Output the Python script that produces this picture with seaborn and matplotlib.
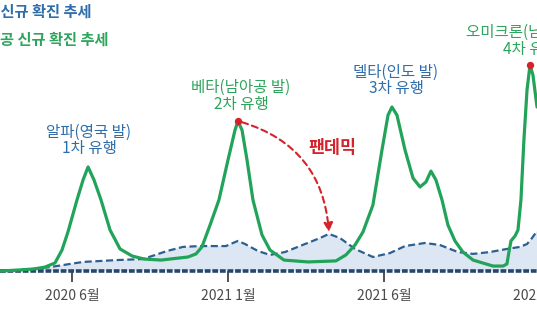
import matplotlib
matplotlib.use("Agg")
import matplotlib.pyplot as plt
import seaborn as sns
import pandas as pd

# ---- data (x: position along time axis, tick units; y: relative case level) ----
tick_pos = [0, 1, 2, 3]
tick_labels = ["2020 6월", "2021 1월", "2021 6월", "2022 1월"]

sa_x = [-0.462, -0.333, -0.244, -0.173, -0.109, -0.064, -0.026, 0.032, 0.071, 0.103,
        0.141, 0.186, 0.244, 0.308, 0.385, 0.462, 0.571, 0.744, 0.795, 0.833,
        0.885, 0.942, 1.0, 1.045, 1.064, 1.090, 1.122, 1.160, 1.218, 1.269,
        1.359, 1.513, 1.692, 1.756, 1.814, 1.865, 1.929, 1.987, 2.026, 2.051,
        2.083, 2.135, 2.186, 2.231, 2.269, 2.301, 2.333, 2.372, 2.410, 2.455,
        2.506, 2.571, 2.699, 2.763, 2.788, 2.801, 2.814, 2.840, 2.859, 2.878,
        2.897, 2.917, 2.936, 2.955, 2.981]
sa_y = [0, 0.5, 1.0, 1.9, 3.9, 10.2, 18.9, 34.5, 44.2, 50.5,
        44.2, 34.5, 19.9, 10.7, 7.3, 5.8, 5.3, 6.8, 8.3, 11.7,
        22.3, 34.5, 53.9, 68.4, 72.8, 68.4, 53.9, 34.5, 17.5, 10.2,
        5.3, 4.4, 4.9, 7.8, 12.6, 18.9, 32.0, 58.7, 75.7, 79.6,
        75.7, 58.7, 45.1, 40.8, 43.2, 48.5, 44.2, 34.5, 22.3, 14.6,
        9.2, 5.3, 2.4, 2.4, 3.4, 9.2, 14.6, 17.0, 19.9, 34.5,
        63.6, 87.9, 100.0, 95.1, 79.6]

world_x = [-0.462, -0.244, -0.141, 0.071, 0.288, 0.455, 0.609, 0.712, 0.821, 0.987,
           1.032, 1.064, 1.109, 1.192, 1.269, 1.365, 1.494, 1.590, 1.647, 1.718,
           1.814, 1.929, 2.038, 2.135, 2.263, 2.359, 2.474, 2.571, 2.679, 2.788,
           2.872, 2.917, 2.949, 2.981]
world_y = [0, 1.0, 1.9, 4.4, 5.3, 5.8, 9.7, 11.7, 12.1, 12.1,
           13.6, 14.6, 13.1, 9.7, 7.8, 9.2, 13.1, 16.0, 18.0, 16.0,
           10.7, 6.8, 8.7, 12.1, 13.6, 12.6, 9.2, 8.3, 9.2, 10.7,
           11.7, 13.1, 16.0, 19.4]

peak_x = [1.064, 2.936]
peak_y = [72.8, 100.0]

GREEN = "#22a35a"
BLUE = "#2e5f8f"
BLUE_TXT = "#2f6eaa"
GREEN_TXT = "#2ea45c"
RED = "#d4232b"

sns.set_theme(style="white")
plt.rcParams["font.family"] = ["Noto Sans CJK KR", "DejaVu Sans"]

fig = plt.figure(figsize=(5.37, 3.35), dpi=100)
fig.patch.set_facecolor("white")
ax = fig.add_axes([0, 0, 1.1508, 1])
ax.set_xlim(-0.4615, 3.5)
ax.set_ylim(-31.07, 131.55)

df_sa = pd.DataFrame({"x": sa_x, "y": sa_y})
df_w = pd.DataFrame({"x": world_x, "y": world_y})

ax.fill_between(world_x, world_y, 0, color="#dde7f3", zorder=1, lw=0)
sns.lineplot(data=df_w, x="x", y="y", sort=False, ax=ax, color=BLUE, lw=1.6,
             linestyle=(0, (3.2, 1.6)), zorder=2)
ax.axhline(0, color="#27466b", lw=2.6, linestyle=(0, (1.6, 0.5)), zorder=3)
sns.lineplot(data=df_sa, x="x", y="y", sort=False, ax=ax, color=GREEN, lw=2.3, zorder=4)

ax.scatter(peak_x, peak_y, s=28, color=RED, zorder=6, lw=0)

ax.annotate("", xy=(1.647, 18.9), xytext=(peak_x[0], peak_y[0]),
            arrowprops=dict(arrowstyle="-|>", color=RED, lw=1.5, linestyle=(0, (3, 2)),
                            connectionstyle="arc3,rad=-0.35", shrinkA=3, shrinkB=0,
                            mutation_scale=13),
            zorder=5)

ax.set_xticks(tick_pos)
ax.set_xticklabels(tick_labels)
ax.set_yticks([])
for s in ax.spines.values():
    s.set_visible(False)
ax.spines["bottom"].set_position(("data", 0))
ax.tick_params(axis="x", direction="out", length=8, width=1.2, color="#333333",
               labelsize=10, labelcolor="#4a4a4a", pad=5, bottom=True)
for t in ax.get_xticklabels():
    t.set_fontweight("light")
ax.set_xlabel("")
ax.set_ylabel("")

def lbl(x, y, s, c, size=11.2, weight="medium", ha="center"):
    ax.text(x, y, s, color=c, fontsize=size, fontweight=weight, ha=ha, va="center", zorder=7)

lbl(0.109, 67.5, "알파(영국 발)", BLUE_TXT)
lbl(0.109, 59.7, "1차 유행", BLUE_TXT)
lbl(1.083, 89.3, "베타(남아공 발)", GREEN_TXT)
lbl(1.083, 80.6, "2차 유행", GREEN_TXT)
lbl(2.077, 96.6, "델타(인도 발)", BLUE_TXT)
lbl(2.077, 88.8, "3차 유행", BLUE_TXT)
lbl(2.936, 116.0, "오미크론(남아공 발)", GREEN_TXT)
lbl(2.936, 107.3, "4차 유행", GREEN_TXT)
lbl(1.667, 59.7, "팬데믹", RED, size=12.5, weight="bold")
lbl(0.128, 125.7, "세계 신규 확진 추세", BLUE_TXT, size=11, weight="bold", ha="right")
lbl(0.231, 112.1, "남아공 신규 확진 추세", GREEN_TXT, size=11, weight="bold", ha="right")

fig.savefig("out.png", dpi=100, facecolor="white")
